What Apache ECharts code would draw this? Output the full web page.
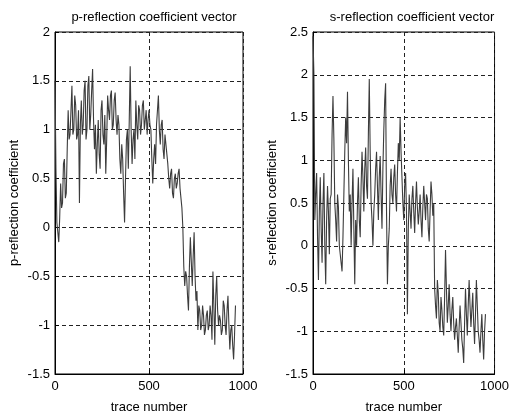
<!DOCTYPE html>
<html>
<head>
<meta charset="utf-8">
<script src="https://cdn.jsdelivr.net/npm/echarts@6/dist/echarts.min.js"></script>
<style>html,body{margin:0;padding:0;background:#fff}#c{width:512px;height:419px}</style>
</head>
<body>
<div id="c"></div>
<script>
// samples every 5 traces (trace numbers 0,5,10,...)
const traceStep = 5;
const pValues = [
1.50,0.60,0.05,-0.05,-0.15,0.10,0.45,0.20,0.25,0.65,0.70,0.30,0.35,0.80,1.20,0.90,0.95,1.20,1.45,0.95,
1.00,1.35,1.25,0.90,0.95,1.20,0.25,1.05,1.30,0.95,1.05,1.40,1.50,0.90,1.00,1.45,1.55,1.00,1.15,1.40,
1.62,1.10,0.80,1.05,0.55,0.85,1.10,0.75,0.60,1.20,1.30,0.95,0.85,1.15,0.55,0.90,1.35,1.20,1.10,1.35,
1.40,1.00,1.05,1.30,1.38,1.10,0.95,1.15,1.05,0.70,0.55,0.85,0.70,0.35,0.05,0.50,0.90,1.00,0.60,1.10,
1.65,1.00,0.65,0.90,1.00,0.70,1.30,1.05,0.90,1.25,1.20,0.95,1.05,1.25,1.30,1.00,1.10,1.20,0.95,1.10,
1.20,1.05,1.00,0.70,0.45,0.70,0.85,0.65,1.05,1.20,1.35,1.00,0.85,1.05,1.10,0.80,0.70,0.95,0.95,0.75,
0.65,0.50,0.40,0.55,0.60,0.35,0.30,0.50,0.55,0.40,0.45,0.55,0.60,0.40,0.30,0.20,0.00,-0.40,-0.60,-0.45,
-0.50,-0.70,-0.85,-0.40,-0.10,-0.35,-0.60,-0.30,-0.05,-0.50,-0.75,-0.65,-1.05,-0.80,-0.85,-1.05,-1.00,-0.80,-0.90,-1.10,
-1.05,-0.90,-0.85,-1.05,-1.00,-0.80,-0.90,-1.15,-0.45,-0.80,-1.20,-0.70,-0.50,-0.85,-1.00,-0.90,-0.95,-1.10,-1.05,-0.75,
-0.80,-1.00,-1.10,-0.85,-0.70,-1.00,-1.25,-1.05,-1.00,-1.20,-1.35,-1.10,-0.80];
const sValues = [
2.45,2.00,0.30,0.60,0.85,0.10,-0.40,0.40,0.80,0.20,-0.20,0.50,0.85,0.00,-0.45,0.30,0.70,0.40,-0.10,0.55,
0.60,1.30,1.75,1.25,0.50,0.30,0.05,0.60,0.45,0.00,-0.10,-0.20,-0.30,0.10,0.60,1.10,1.50,1.20,1.80,1.00,
0.40,0.60,0.00,0.50,0.90,0.20,-0.45,0.30,0.00,0.50,0.80,0.30,0.10,0.70,1.10,0.80,0.40,0.90,1.15,0.70,
0.55,1.30,1.95,1.10,0.50,0.30,0.00,0.40,0.60,0.90,1.10,0.70,0.30,0.80,1.05,0.60,0.20,0.90,1.35,1.70,
1.90,0.40,-0.45,0.00,0.20,0.70,0.90,0.60,0.50,0.80,0.95,0.60,0.40,0.85,1.20,1.00,1.50,1.10,0.80,0.50,
0.30,0.70,0.85,0.40,-0.80,0.20,0.60,0.40,0.20,0.55,0.70,0.40,0.15,0.50,0.75,0.45,0.25,0.40,0.60,0.30,
0.10,0.45,0.70,0.50,0.30,0.60,0.55,0.20,0.05,0.40,0.75,0.60,0.35,0.50,-0.50,-0.70,-0.85,-0.40,-0.55,-0.90,
-1.00,-0.60,-0.75,-0.95,-1.05,-0.60,-0.05,-0.50,-0.90,-0.70,-0.45,-0.80,-1.00,-0.75,-0.60,-0.90,-1.10,-0.95,-0.85,-1.05,
-1.25,-0.95,-0.70,-0.90,-1.10,-1.20,-1.37,-0.90,-0.50,-0.80,-1.05,-0.70,-0.40,-0.70,-0.95,-0.75,-0.55,-0.90,-1.15,-0.80,
-0.40,-0.70,-1.00,-1.10,-1.25,-1.00,-0.80,-1.10,-1.33,-1.00,-0.80];
const xTicks = [0, 500, 1000];
const pTitle = 'p-reflection coefficient vector';
const sTitle = 's-reflection coefficient vector';
const pYName = 'p-reflection coefficient';
const sYName = 's-reflection coefficient';
const xName = 'trace number';

const toPairs = arr => arr.map((v, i) => [i * traceStep, v]);
const font = 'Liberation Sans, Arial, sans-serif';
const fs = 13;

function xAxis(gi) {
  return {
    gridIndex: gi, type: 'value', min: xTicks[0], max: xTicks[2], interval: xTicks[1] - xTicks[0],
    name: xName, nameLocation: 'middle', nameGap: 27,
    nameTextStyle: {fontFamily: font, fontSize: fs, color: '#000'},
    axisLine: {show: true, onZero: false, lineStyle: {color: '#000', width: 1}},
    axisTick: {show: true, inside: true, length: 4, lineStyle: {color: '#000'}},
    axisLabel: {fontFamily: font, fontSize: fs, color: '#000', margin: 6, formatter: v => String(v)},
    splitLine: {show: true, lineStyle: {color: '#222', type: [4, 3], width: 1}}
  };
}
function yAxis(gi, min, max, name) {
  return {
    gridIndex: gi, type: 'value', min: min, max: max, interval: 0.5,
    name: name, nameLocation: 'middle', nameGap: 34,
    nameTextStyle: {fontFamily: font, fontSize: fs, color: '#000'},
    axisLine: {show: true, onZero: false, lineStyle: {color: '#000', width: 1}},
    axisTick: {show: true, inside: true, length: 4, lineStyle: {color: '#000'}},
    axisLabel: {fontFamily: font, fontSize: fs, color: '#000', margin: 5, formatter: v => String(v)},
    splitLine: {show: true, lineStyle: {color: '#222', type: [4, 3], width: 1}}
  };
}

const chart = echarts.init(document.getElementById('c'), null, {renderer: 'canvas'});
chart.setOption({
  animation: false,
  backgroundColor: '#fff',
  title: [
    {text: pTitle, left: 149, top: 6, textAlign: 'center', textStyle: {fontFamily: font, fontSize: fs, fontWeight: 'normal', color: '#000'}},
    {text: sTitle, left: 407, top: 6, textAlign: 'center', textStyle: {fontFamily: font, fontSize: fs, fontWeight: 'normal', color: '#000'}}
  ],
  grid: [
    {left: 55, top: 32, width: 188, height: 351, show: true, borderColor: '#000', borderWidth: 1, backgroundColor: '#fff'},
    {left: 313, top: 32, width: 188, height: 351, show: true, borderColor: '#000', borderWidth: 1, backgroundColor: '#fff'}
  ],
  xAxis: [xAxis(0), xAxis(1)],
  yAxis: [yAxis(0, -1.5, 2, pYName), yAxis(1, -1.5, 2.5, sYName)],
  series: [
    {type: 'line', xAxisIndex: 0, yAxisIndex: 0, data: toPairs(pValues), showSymbol: false,
     lineStyle: {color: '#3c3c3c', width: 1.1}},
    {type: 'line', xAxisIndex: 1, yAxisIndex: 1, data: toPairs(sValues), showSymbol: false,
     lineStyle: {color: '#3c3c3c', width: 1.1}}
  ]
});
</script>
</body>
</html>
